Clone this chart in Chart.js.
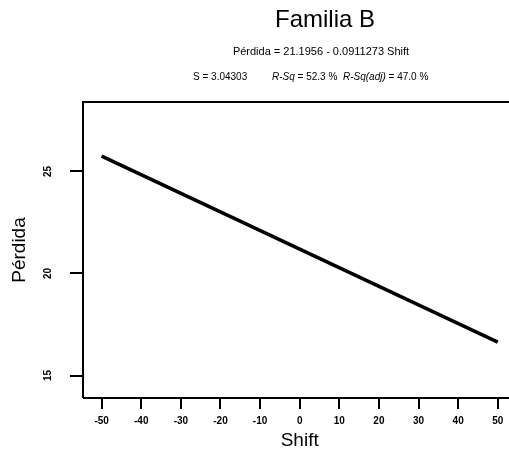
<!DOCTYPE html>
<html>
<head>
<meta charset="utf-8">
<script src="https://cdn.jsdelivr.net/npm/chart.js@4/dist/chart.umd.min.js"></script>
<style>
html,body{margin:0;padding:0;overflow:hidden;background:#fff;}
#wrap{position:relative;width:530px;height:452px;}
</style>
</head>
<body>
<div id="wrap"><canvas id="c"></canvas></div>
<script>
// Data
const shift = [-50, 50];
const perdida = [25.75, 16.64];
const xTicks = [-50, -40, -30, -20, -10, 0, 10, 20, 30, 40, 50];
const yTicks = [15, 20, 25];
const titleText = 'Familia B';
const equationText = 'Pérdida = 21.1956 - 0.0911273 Shift';
const statsText = [
  {label: 'S', value: ' = 3.04303'},
  {label: 'R-Sq', value: ' = 52.3 %'},
  {label: 'R-Sq(adj)', value: ' = 47.0 %'}
];
const xTitle = 'Shift';
const yTitle = 'Pérdida';

const FONT = 'Arial, "Liberation Sans", Helvetica, sans-serif';

const headerPlugin = {
  id: 'header',
  afterDraw(chart) {
    const ctx = chart.ctx;
    const ca = chart.chartArea;
    ctx.save();
    ctx.fillStyle = '#000';
    ctx.textBaseline = 'alphabetic';
    // plot frame (top edge + left/bottom)
    ctx.strokeStyle = '#000';
    ctx.lineWidth = 2;
    ctx.beginPath();
    ctx.moveTo(ca.left, ca.bottom);
    ctx.lineTo(ca.left, ca.top);
    ctx.lineTo(ca.right, ca.top);
    ctx.moveTo(ca.left, ca.bottom);
    ctx.lineTo(ca.right, ca.bottom);
    ctx.stroke();
    // title
    ctx.textAlign = 'center';
    ctx.font = '24px ' + FONT;
    ctx.fillText(titleText, 325, 27);
    ctx.font = '11px ' + FONT;
    ctx.fillText(equationText, 321, 55);
    // stats line
    ctx.textAlign = 'left';
    const starts = [193, 272, 343];
    statsText.forEach((s, i) => {
      ctx.font = (i === 0 ? '' : 'italic ') + '10px ' + FONT;
      ctx.fillText(s.label, starts[i], 80);
      const w = ctx.measureText(s.label).width;
      ctx.font = '10px ' + FONT;
      ctx.fillText(s.value, starts[i] + w, 80);
    });
    ctx.restore();
  }
};

new Chart(document.getElementById('c'), {
  type: 'scatter',
  data: {
    datasets: [{
      data: shift.map((x, i) => ({x: x, y: perdida[i]})),
      showLine: true,
      borderColor: '#000',
      borderWidth: 3.5,
      pointRadius: 0,
      fill: false
    }]
  },
  options: {
    responsive: true,
    maintainAspectRatio: false,
    animation: false,
    layout: {padding: {top: 102, right: 13.6, left: 0, bottom: 0}},
    plugins: {legend: {display: false}, tooltip: {enabled: false}},
    scales: {
      x: {
        type: 'linear',
        min: -54.7,
        max: 54.7,
        afterBuildTicks: s => { s.ticks = xTicks.map(v => ({value: v})); },
        afterFit: s => { s.height = 54; },
        grid: {display: true, drawOnChartArea: false, drawTicks: true, tickLength: 11, color: '#000', lineWidth: 2},
        border: {display: false},
        ticks: {color: '#000', padding: 6, maxRotation: 0, minRotation: 0, font: {family: FONT, size: 10, weight: 'bold'}},
        title: {display: true, text: xTitle, color: '#000', font: {family: FONT, size: 19, lineHeight: 1}, padding: {top: 0, bottom: 2}}
      },
      y: {
        type: 'linear',
        min: 13.9,
        max: 28.4,
        afterBuildTicks: s => { s.ticks = yTicks.map(v => ({value: v})); },
        afterFit: s => { s.width = 83; },
        grid: {display: true, drawOnChartArea: false, drawTicks: true, tickLength: 13, color: '#000', lineWidth: 2},
        border: {display: false},
        ticks: {color: '#000', padding: 16, crossAlign: 'center', minRotation: 90, maxRotation: 90, font: {family: FONT, size: 10, weight: 'bold'}},
        title: {display: true, text: yTitle, color: '#000', font: {family: FONT, size: 19, lineHeight: 1}, padding: {top: 10, bottom: 0}}
      }
    }
  },
  plugins: [headerPlugin]
});
</script>
</body>
</html>
